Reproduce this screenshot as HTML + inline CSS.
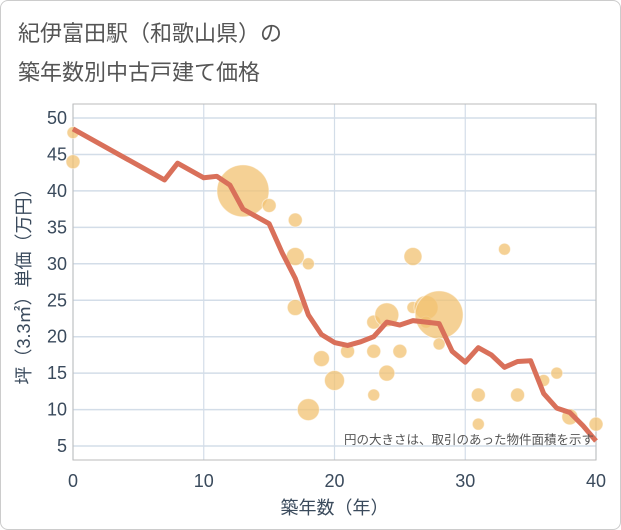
<!DOCTYPE html>
<html><head><meta charset="utf-8"><style>
body{margin:0;background:#fff;font-family:"Liberation Sans","Noto Sans CJK JP",sans-serif;}
#card{position:absolute;left:0;top:0;width:619px;height:528px;border:1px solid #ccc;border-radius:8px;}
.t{position:absolute;left:18px;font-size:22px;color:#555;}
</style></head><body>
<div id="card"></div>
<div class="t" style="top:16px">紀伊富田駅（和歌山県）の</div>
<div class="t" style="top:55px">築年数別中古戸建て価格</div>
<svg id="c" width="621" height="530" style="position:absolute;left:0;top:0"></svg>
<script>
const xTicks=[0,10,20,30,40];
const yTicks=[5,10,15,20,25,30,35,40,45,50];
const bubbleX=[0,0,13,15,17,17,18,17,19,21,20,18,23,23,23,24,24,25,26,26,27,27,28,28,31,31,33,34,36,37,38,40];
const bubbleY=[48,44,40,38,36,31,30,24,17,18,14,10,22,18,12,23,15,18,31,24,24,22,23,19,12,8,32,12,14,15,9,8];
const bubbleR=[6,7,26,7,7,9,6,8,8,7,10,11,7,7,6,12,8,7,9,6,12,6,24,6,7,6,6,7,6,6,8,7];
const lineX=[0,7,8,10,11,12,13,15,16,17,18,19,20,21,22,23,24,25,26,28,29,30,31,32,33,34,35,36,37,38,39,40];
const lineY=[48.5,41.5,43.8,41.8,42,40.8,37.5,35.5,31.5,28,23,20.3,19.2,18.8,19.3,20,22,21.6,22.2,21.8,18,16.5,18.5,17.5,15.8,16.6,16.7,12.2,10.2,9.6,7.8,5.7];
const L=73,R=596,T=104,B=460;
const sx=v=>L+(R-L)*v/40, sy=v=>118+(50-v)*7.29;
const svg=document.getElementById('c'),NS='http://www.w3.org/2000/svg';
function mk(t,a,p){const e=document.createElementNS(NS,t);for(const k in a)e.setAttribute(k,a[k]);(p||svg).appendChild(e);return e;}
yTicks.forEach(v=>{
 const g=mk('line',{x1:L,x2:R,y1:sy(v),y2:sy(v),stroke:'#d3dde8','stroke-width':1.5});
 
 
 const t=mk('text',{x:67,y:sy(v)+6,'text-anchor':'end','font-size':18,fill:'#3a4a5c'});t.textContent=v;
 
 
});
xTicks.forEach(v=>{
 const g=mk('line',{x1:sx(v),x2:sx(v),y1:T,y2:B,stroke:'#d3dde8','stroke-width':1.2});
 
 
 const t=mk('text',{x:sx(v),y:487,'text-anchor':'middle','font-size':18,fill:'#3a4a5c'});t.textContent=v;
 
 
});
const fr=mk('rect',{x:L,y:T,width:R-L,height:B-T,fill:'none',stroke:'#bbb'});


bubbleX.forEach((x,i)=>{
 const c=mk('circle',{cx:sx(x),cy:sy(bubbleY[i]),r:bubbleR[i],fill:'#f2c172','fill-opacity':0.75,stroke:'#fff','stroke-opacity':0.5});
 
 
});
const p=mk('polyline',{points:lineX.map((x,i)=>sx(x)+','+sy(lineY[i])).join(' '),fill:'none',stroke:'#d9705a','stroke-width':5,'stroke-linejoin':'round'});


const n=mk('text',{x:594,y:444,'text-anchor':'end','font-size':12.5,fill:'#555'});n.textContent='円の大きさは、取引のあった物件面積を示す';


const xt=mk('text',{x:sx(20),y:514,'text-anchor':'middle','font-size':18,fill:'#3a4a5c'});xt.textContent='築年数（年）';


const yt=mk('text',{x:0,y:0,'text-anchor':'middle','font-size':18,fill:'#3a4a5c',transform:'translate(30,282) rotate(-90)'});yt.textContent='坪（3.3㎡）単価（万円）';


</script>
</body></html>
